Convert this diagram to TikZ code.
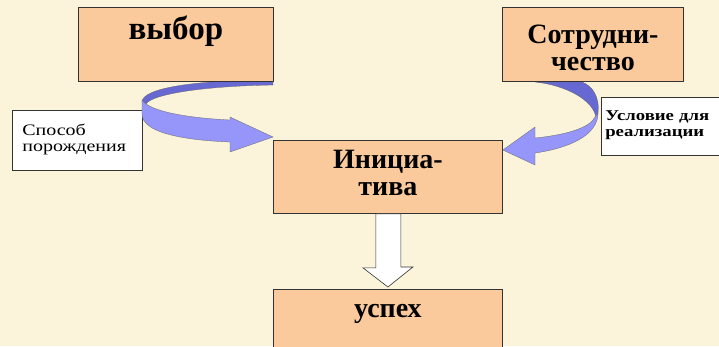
\documentclass[tikz,border=0pt]{standalone}
\usepackage{fontspec}
\setmainfont{Liberation Serif}[BoldFont={Liberation Serif Bold}]
\newfontfamily\widefont[FakeStretch=1.25]{Liberation Serif}
\usepackage{tikz}
\usetikzlibrary{positioning}
\usepackage{xcolor}
\definecolor{bgcream}{RGB}{252,244,218}
\definecolor{peach}{RGB}{250,202,156}
\definecolor{ribbonlight}{RGB}{150,150,250}
\definecolor{ribbondark}{RGB}{104,104,210}

\begin{document}
\begin{tikzpicture}[x=1pt,y=-1pt,
    bigbox/.style={draw=black!80, fill=peach, line width=0.8pt, inner sep=0pt,
        anchor=north west, align=center, font=\bfseries\fontsize{28}{27}\selectfont},
    notebox/.style={draw=black!80, fill=white, line width=0.6pt, inner xsep=10pt,
        inner ysep=0pt, anchor=north west, align=left},
    ribbon/.style={draw=black!60, line width=0.3pt, fill=ribbonlight},
    ribbonback/.style={draw=black!60, line width=0.3pt, fill=ribbondark},
    blockarrow/.style={draw=black!80, fill=white, line width=0.6pt}]

    \fill[bgcream] (0,0) rectangle (719,346);
    \useasboundingbox (0,0) rectangle (719,346);

    % back sides of the twisted ribbons
    \filldraw[ribbonback] (273,80) .. controls (195,80) and (142,88) .. (142,102)
        -- (146,104) .. controls (152,94) and (205,86) .. (273,85) -- cycle;
    \filldraw[ribbonback] (535,82) .. controls (565,85) and (594,100) .. (596,118)
        -- (598,113) .. controls (600,98) and (593,86) .. (582,82) -- cycle;

    \node[bigbox, minimum width=195pt, text height=32pt, text depth=42pt,
        font=\bfseries\fontsize{33}{30}\selectfont] (vybor) at (78,7) {выбор};
    \node[bigbox, minimum width=181pt, text height=63pt, text depth=11pt] (sotr) at (502,7) {Сотрудни-\\чество};
    \node[bigbox, minimum width=229pt, text height=55pt, text depth=18pt] (init) at (273,140) {Инициа-\\тива};
    \node[bigbox, minimum width=229pt, text height=28pt, text depth=46pt] (uspeh) at (273,289) {успех};

    \node[notebox, text width=110pt, text height=25pt, text depth=35pt,
        font=\widefont\fontsize{16}{16}\selectfont] (sposob) at (12,110) {Способ\\порождения};
    \node[notebox, inner xsep=4pt, text width=118pt, text height=23pt, text depth=35pt,
        font=\widefont\bfseries\fontsize{15}{16}\selectfont] (uslovie) at (601,97) {Условие для\\реализации};

    % front sides with the heads
    \filldraw[ribbon] (142,100) .. controls (150,112) and (190,118) .. (230,120)
        -- (230,117) -- ([yshift=3pt]init.north west) -- (230,152) -- (230,142)
        .. controls (180,140) and (142,132) .. (142,114) -- cycle;
    \filldraw[ribbon] (595,117) .. controls (590,128) and (565,135) .. (535,138)
        -- (535,127) -- ([yshift=-10pt]init.north east) -- (535,165) -- (535,153)
        .. controls (570,148) and (598,135) .. (598,113) -- cycle;

    \filldraw[blockarrow] ([xshift=-12pt]init.south) -- ++(0,54) -- ++(-13,0)
        -- ([yshift=2pt]uspeh.north) -- ++(25,-20) -- ++(-12,0) -- ([xshift=13pt]init.south) -- cycle;
\end{tikzpicture}
\end{document}
